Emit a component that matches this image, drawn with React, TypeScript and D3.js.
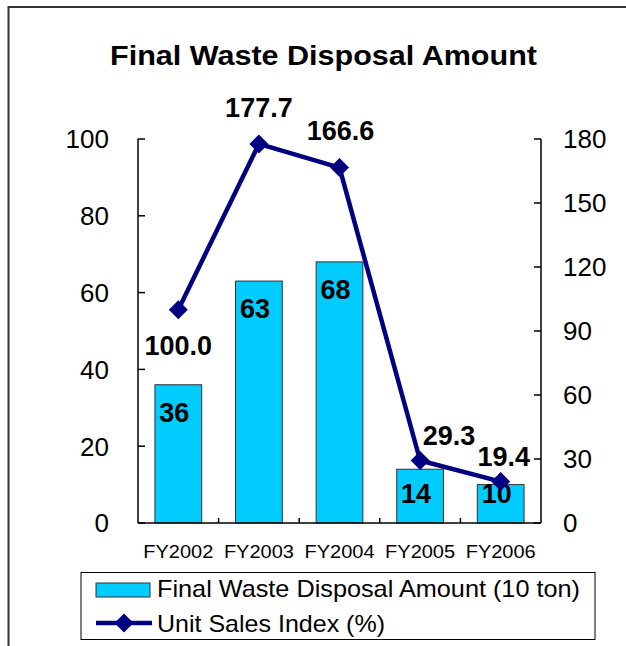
import React from 'react';
import * as d3 from 'd3';

const years = ['FY2002', 'FY2003', 'FY2004', 'FY2005', 'FY2006'];
const wasteAmount = [36, 63, 68, 14, 10];
const salesIndex = [100.0, 177.7, 166.6, 29.3, 19.4];
const leftTicks = [0, 20, 40, 60, 80, 100];
const rightTicks = [0, 30, 60, 90, 120, 150, 180];

// label offsets for the line values (relative to the point)
const lineLabelOffsets = [
  [0, 45],
  [0, -27],
  [1, -28],
  [29, -15],
  [3, -16],
];

const FONT = '"Liberation Sans", Arial, sans-serif';
const BAR = '#00CCFF';
const LINE = '#000080';

const App: React.FC = () => {
  const width = 626;
  const height = 646;
  const plot = { left: 138, right: 541, top: 139, bottom: 523 };

  const x = d3.scaleBand<string>().domain(years).range([plot.left, plot.right]).padding(0);
  const yLeft = d3.scaleLinear().domain([0, 100]).range([plot.bottom, plot.top]);
  const yRight = d3.scaleLinear().domain([0, 180]).range([plot.bottom, plot.top]);

  const barW = x.bandwidth() * 0.58;
  const cx = (d: string) => (x(d) as number) + x.bandwidth() / 2;

  const line = d3
    .line<number>()
    .x((_, i) => cx(years[i]))
    .y(d => yRight(d));

  const diamond = (px: number, py: number, r: number) =>
    `M${px},${py - r}L${px + r},${py}L${px},${py + r}L${px - r},${py}Z`;

  return (
    <svg
      width={width}
      height={height}
      style={{ position: 'absolute', left: 0, top: 0, background: '#fff' }}
      fontFamily={FONT}
    >
      {/* outer frame (top and left edges only visible) */}
      <line x1={8} y1={7} x2={626} y2={7} stroke="#333" strokeWidth={2} />
      <line x1={8.5} y1={6} x2={8.5} y2={646} stroke="#333" strokeWidth={2} />

      <text
        x={110}
        y={65}
        fontSize={28}
        fontWeight="bold"
        textLength={427}
        lengthAdjust="spacingAndGlyphs"
      >
        Final Waste Disposal Amount
      </text>

      {/* bars */}
      {years.map((yr, i) => (
        <rect
          key={yr}
          x={cx(yr) - barW / 2}
          y={yLeft(wasteAmount[i])}
          width={barW}
          height={plot.bottom - yLeft(wasteAmount[i])}
          fill={BAR}
          stroke="#333"
          strokeWidth={1}
        />
      ))}

      {/* axes */}
      <g stroke="#000" strokeWidth={1.5} fill="none">
        <line x1={plot.left} y1={plot.top} x2={plot.left} y2={plot.bottom} />
        <line x1={plot.right} y1={plot.top} x2={plot.right} y2={plot.bottom} />
        <line x1={plot.left} y1={plot.bottom} x2={plot.right} y2={plot.bottom} />
        {leftTicks.map(t => (
          <line key={'l' + t} x1={plot.left} y1={yLeft(t)} x2={plot.left + 7} y2={yLeft(t)} />
        ))}
        {rightTicks.map(t => (
          <line key={'r' + t} x1={plot.right} y1={yRight(t)} x2={plot.right - 7} y2={yRight(t)} />
        ))}
        {years.slice(1).map(yr => (
          <line key={'x' + yr} x1={x(yr)} y1={plot.bottom} x2={x(yr)} y2={plot.bottom - 5} />
        ))}
      </g>

      {leftTicks.map(t => (
        <text key={'lt' + t} x={109} y={yLeft(t)} dy="0.36em" textAnchor="end" fontSize={26}>
          {t}
        </text>
      ))}
      {rightTicks.map(t => (
        <text key={'rt' + t} x={563} y={yRight(t)} dy="0.36em" textAnchor="start" fontSize={26}>
          {t}
        </text>
      ))}
      {years.map(yr => (
        <text
          key={'xt' + yr}
          x={cx(yr) - 35}
          y={558}
          fontSize={19}
          textLength={70}
          lengthAdjust="spacingAndGlyphs"
        >
          {yr}
        </text>
      ))}

      {/* bar labels */}
      {years.map((yr, i) => (
        <text
          key={'bl' + yr}
          x={cx(yr) - 4}
          y={Math.min(yLeft(wasteAmount[i]) + 37, 503)}
          textAnchor="middle"
          fontSize={27}
          fontWeight="bold"
        >
          {wasteAmount[i]}
        </text>
      ))}

      {/* line series */}
      <path d={line(salesIndex) || ''} fill="none" stroke={LINE} strokeWidth={4.5} strokeLinejoin="round" />
      {salesIndex.map((v, i) => (
        <path key={'m' + i} d={diamond(cx(years[i]), yRight(v), 9.5)} fill={LINE} />
      ))}
      {salesIndex.map((v, i) => (
        <text
          key={'ll' + i}
          x={cx(years[i]) + lineLabelOffsets[i][0]}
          y={yRight(v) + lineLabelOffsets[i][1]}
          textAnchor="middle"
          fontSize={27}
          fontWeight="bold"
        >
          {v.toFixed(1)}
        </text>
      ))}

      {/* legend */}
      <rect x={81} y={572.5} width={514} height={67} fill="#fff" stroke="#000" strokeWidth={1} />
      <rect x={96} y={583} width={54} height={14} fill={BAR} stroke="#333" strokeWidth={1} />
      <text x={157} y={597} fontSize={24} textLength={423} lengthAdjust="spacingAndGlyphs">
        Final Waste Disposal Amount (10 ton)
      </text>
      <line x1={96} y1={623} x2={152} y2={623} stroke={LINE} strokeWidth={4.5} />
      <path d={diamond(124, 623, 9.5)} fill={LINE} />
      <text x={157} y={632} fontSize={24} textLength={228} lengthAdjust="spacingAndGlyphs">
        Unit Sales Index (%)
      </text>
    </svg>
  );
};

export default App;
